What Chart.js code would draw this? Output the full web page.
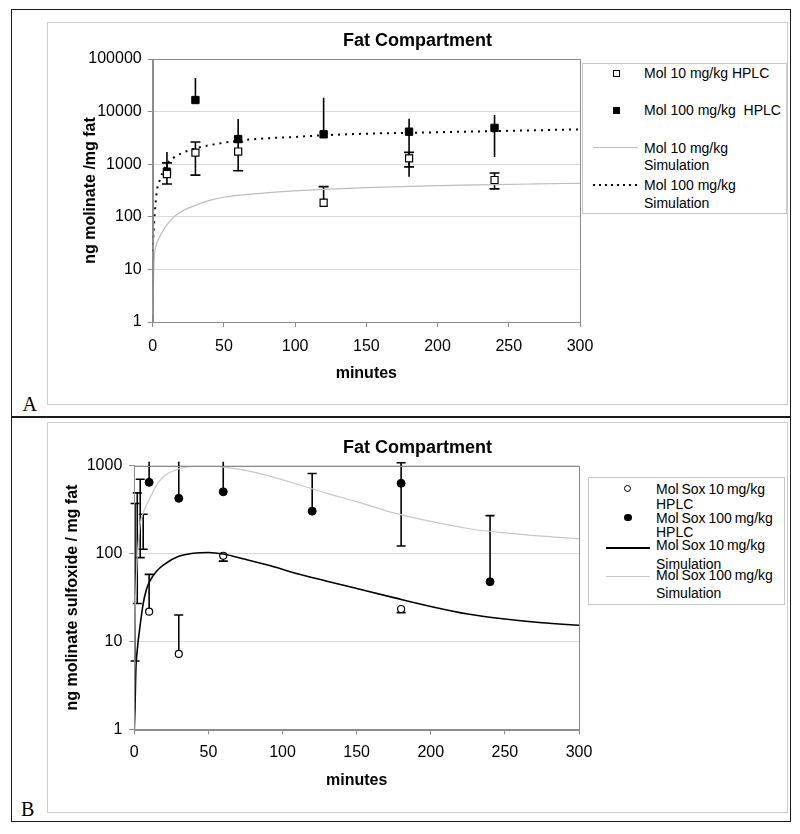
<!DOCTYPE html>
<html>
<head>
<meta charset="utf-8">
<title>Fat Compartment</title>
<script src="https://cdn.jsdelivr.net/npm/chart.js@4.4.1/dist/chart.umd.min.js"></script>
<style>
html,body{margin:0;padding:0;background:#fff;}
body{position:relative;width:800px;height:834px;overflow:hidden;font-family:"Liberation Sans",Arial,Helvetica,sans-serif;color:#000;}
.a{position:absolute;}
.frame{position:absolute;border:1.5px solid #cdcdcd;box-sizing:border-box;}
.title{position:absolute;font-weight:bold;font-size:18px;line-height:18px;white-space:nowrap;transform:translateX(-50%);}
.lg{position:absolute;font-size:14px;line-height:14px;white-space:pre;}
.lgb{word-spacing:-1px;}
.panel{position:absolute;font-family:"Liberation Serif","Times New Roman",serif;font-size:20px;line-height:20px;}
canvas{position:absolute;}
</style>
</head>
<body>
<div class="a" style="left:11px;top:9px;width:780px;height:813px;border:1.5px solid #1a1a1a;box-sizing:border-box;"></div>
<div class="a" style="left:11px;top:416px;width:780px;height:1.5px;background:#1a1a1a;"></div>

<div class="frame" style="left:47px;top:22px;width:741px;height:383px;"></div>
<div class="frame" style="left:47px;top:422px;width:741px;height:391px;"></div>

<canvas id="chartA" width="739" height="381" style="left:48px;top:23px;width:739px;height:381px;"></canvas>
<canvas id="chartB" width="739" height="389" style="left:48px;top:423px;width:739px;height:389px;"></canvas>

<div class="title" style="left:417.5px;top:31.2px;">Fat Compartment</div>
<div class="title" style="left:417.5px;top:437.7px;">Fat Compartment</div>

<div class="panel" style="left:22.5px;top:394px;">A</div>
<div class="panel" style="left:21px;top:799px;">B</div>

<!-- Legend A -->
<div class="a" style="left:582.3px;top:63.3px;width:205px;height:151px;border:1px solid #c8c8c8;box-sizing:border-box;background:#fff;"></div>
<div class="a" style="left:613px;top:70px;width:7px;height:7px;border:1.2px solid #000;box-sizing:border-box;background:#fff;"></div>
<div class="a" style="left:613px;top:107.2px;width:7px;height:7px;background:#000;"></div>
<div class="a" style="left:593px;top:147.2px;width:45px;height:1px;background:#bdbdbd;"></div>
<div class="a" style="left:593px;top:184px;width:45px;height:2px;background:repeating-linear-gradient(to right,#000 0 2px,transparent 2px 6px);"></div>
<div class="lg" style="left:644px;top:66.2px;">Mol 10 mg/kg HPLC</div>
<div class="lg" style="left:644px;top:102.7px;">Mol 100 mg/kg  HPLC</div>
<div class="lg" style="left:644px;top:140.9px;">Mol 10 mg/kg</div>
<div class="lg" style="left:644px;top:158.2px;">Simulation</div>
<div class="lg" style="left:644px;top:178.2px;">Mol 100 mg/kg</div>
<div class="lg" style="left:644px;top:195.5px;">Simulation</div>

<!-- Legend B -->
<div class="a" style="left:588.3px;top:477.3px;width:197px;height:128px;border:1px solid #c8c8c8;box-sizing:border-box;background:#fff;"></div>
<div class="a" style="left:624.2px;top:484.8px;width:7px;height:7px;border:1.2px solid #000;box-sizing:border-box;border-radius:50%;background:#fff;"></div>
<div class="a" style="left:624px;top:513.6px;width:7.5px;height:7.5px;border-radius:50%;background:#000;"></div>
<div class="a" style="left:606px;top:547px;width:44px;height:1.6px;background:#000;"></div>
<div class="a" style="left:606px;top:576.2px;width:44px;height:1px;background:#c8c8c8;"></div>
<div class="lg lgb" style="left:656px;top:481.5px;">Mol Sox 10 mg/kg</div>
<div class="lg lgb" style="left:656px;top:496.7px;">HPLC</div>
<div class="lg lgb" style="left:656px;top:510.9px;">Mol Sox 100 mg/kg</div>
<div class="lg lgb" style="left:656px;top:525.4px;">HPLC</div>
<div class="lg lgb" style="left:656px;top:538.2px;">Mol Sox 10 mg/kg</div>
<div class="lg lgb" style="left:656px;top:557px;">Simulation</div>
<div class="lg lgb" style="left:656px;top:568.2px;">Mol Sox 100 mg/kg</div>
<div class="lg lgb" style="left:656px;top:586px;">Simulation</div>

<script>
// ---------- axes ----------
const xTicks = [0, 50, 100, 150, 200, 250, 300];
const yTicksA = [1, 10, 100, 1000, 10000, 100000];
const yTicksB = [1, 10, 100, 1000];

// ---------- Panel A: molinate ----------
const timesA = [10, 30, 60, 120, 180, 240];
const mol10Hplc = [650, 1660, 1740, 185, 1290, 500];
const mol10Low  = [420, 620, 750, 185, 890, 340];
const mol10High = [1060, 2640, 2650, 375, 1680, 680];
const mol100Hplc = [720, 16600, 3000, 3700, 4150, 4900];
const mol100Low  = [720, 16600, 3000, 3700, 580, 1370];
const mol100High = [1700, 43700, 7250, 18400, 7330, 8600];

const simTimesA = [0, 1, 2, 3, 5, 7, 10, 15, 20, 30, 40, 50, 60, 80, 100, 120, 150, 180, 210, 240, 270, 300];
const mol10Sim  = [1.4, 15, 26, 32, 42, 53, 70, 100, 125, 165, 205, 235, 255, 285, 310, 332, 358, 380, 395, 410, 422, 433];
const mol100Sim = [22, 76, 180, 320, 500, 700, 1000, 1350, 1600, 2000, 2300, 2560, 2800, 3100, 3300, 3550, 3800, 3950, 4100, 4250, 4420, 4600];

// ---------- Panel B: molinate sulfoxide ----------
const timesB10 = [10, 30, 60, 180];
const sox10Hplc = [21.8, 7.2, 94.5, 23.4];
const sox10Low  = [21.8, 7.2, 82, 21.3];
const sox10High = [58, 20, 94.5, 23.4];

const timesB100 = [10, 30, 60, 120, 180, 240];
const sox100Hplc = [646, 425, 505, 304, 630, 47.8];
const sox100Low  = [646, 425, 505, 304, 122, 47.8];
const sox100High = [3000, 3000, 3000, 815, 1080, 270];

const earlyTimesB = [0.5, 2, 4, 6];
const earlyLowB   = [6, 27, 90, 112];
const earlyHighB  = [372, 490, 700, 280];

const simTimesB = [0, 0.5, 1, 2, 4, 6, 8, 10, 15, 20, 30, 40, 50, 60, 75, 90, 110, 130, 150, 175, 200, 225, 250, 275, 300];
const sox10Sim  = [1, 1.8, 4.5, 8, 15.5, 27, 38, 47, 63, 75, 93, 101, 103, 99, 86, 74, 59, 48.5, 40, 31.5, 25, 20.5, 18, 16.3, 15.3];
const sox100Sim = [1, 20, 35, 90, 220, 290, 350, 410, 600, 760, 920, 985, 995, 965, 885, 770, 615, 485, 390, 290, 232, 193, 172, 158, 148];

// ---------- helpers ----------
const FAMILY = '"Liberation Sans", Arial, sans-serif';
const pts = (xs, ys) => xs.map((x, i) => ({ x: x, y: ys[i] }));

const errBarPlugin = {
  id: 'errbars',
  beforeDatasetsDraw(chart, args, opts) {
    const { ctx, chartArea: ca, scales } = chart;
    const x = scales.x, y = scales.y;
    ctx.save();
    ctx.beginPath();
    ctx.rect(ca.left - 6, ca.top - 4, ca.right - ca.left + 12, ca.bottom - ca.top + 4);
    ctx.clip();
    (opts.sets || []).forEach(s => {
      ctx.strokeStyle = s.color || '#000';
      ctx.lineWidth = s.width || 1.6;
      s.t.forEach((t, i) => {
        const px = x.getPixelForValue(t);
        const lo = y.getPixelForValue(s.low[i]);
        const hi = y.getPixelForValue(s.high[i]);
        ctx.beginPath();
        ctx.moveTo(px, lo);
        ctx.lineTo(px, hi);
        if (s.cap) {
          const hw = s.cap / 2;
          if (!s.val || s.high[i] !== s.val[i]) { ctx.moveTo(px - hw, hi); ctx.lineTo(px + hw, hi); }
          if (!s.val || s.low[i] !== s.val[i]) { ctx.moveTo(px - hw, lo); ctx.lineTo(px + hw, lo); }
        }
        ctx.stroke();
      });
    });
    ctx.restore();
  }
};

const framePlugin = {
  id: 'plotFrame',
  afterDatasetsDraw(chart) {
    const { ctx, chartArea: ca } = chart;
    ctx.save();
    ctx.strokeStyle = '#8c8c8c';
    ctx.lineWidth = 1;
    ctx.strokeRect(Math.round(ca.left) + 0.5, Math.round(ca.top) + 0.5, Math.round(ca.right - ca.left), Math.round(ca.bottom - ca.top));
    ctx.restore();
  }
};

function makeOptions(cfg) {
  return {
    responsive: false,
    animation: false,
    devicePixelRatio: 1,
    layout: { padding: { left: 0, right: cfg.padRight, top: cfg.padTop, bottom: 0 } },
    plugins: {
      legend: { display: false },
      title: { display: false },
      tooltip: { enabled: false },
      errbars: { sets: cfg.errSets }
    },
    scales: {
      x: {
        type: 'linear', min: 0, max: 300,
        afterBuildTicks: s => { s.ticks = xTicks.map(v => ({ value: v })); },
        afterFit: s => { s.height = cfg.xHeight; },
        ticks: { font: { family: FAMILY, size: 16 }, color: '#000', padding: cfg.xTickPad, maxRotation: 0, autoSkip: false, callback: v => String(v) },
        grid: { drawOnChartArea: false, drawTicks: true, tickLength: 5, color: '#8c8c8c', tickColor: '#8c8c8c' },
        border: { display: true, color: '#8c8c8c', width: 1 },
        title: { display: true, text: 'minutes', color: '#000', font: { family: FAMILY, size: 16, weight: 'bold' }, padding: { top: 0, bottom: cfg.xTitlePad } }
      },
      y: {
        type: 'logarithmic', min: cfg.yMin, max: cfg.yMax,
        afterBuildTicks: s => { s.ticks = cfg.yTicks.map(v => ({ value: v })); },
        afterFit: s => { s.width = cfg.yWidth; },
        ticks: { font: { family: FAMILY, size: 16 }, color: '#000', padding: cfg.yTickPad, autoSkip: false, callback: v => String(v) },
        grid: { color: '#d9d9d9', lineWidth: 1, drawTicks: true, tickLength: 5, tickColor: '#8c8c8c' },
        border: { display: true, color: '#8c8c8c', width: 1 },
        title: { display: true, text: cfg.yTitle, color: '#000', font: { family: FAMILY, size: 16, weight: 'bold' }, padding: { top: cfg.yTitlePad, bottom: 0 } }
      }
    }
  };
}

// ---------- Chart A ----------
new Chart(document.getElementById('chartA'), {
  type: 'scatter',
  data: {
    datasets: [
      { label: 'Mol 10 mg/kg Simulation', data: pts(simTimesA, mol10Sim), showLine: true, pointRadius: 0, borderColor: '#bdbdbd', borderWidth: 1.2, cubicInterpolationMode: 'monotone' },
      { label: 'Mol 100 mg/kg Simulation', data: pts(simTimesA, mol100Sim), showLine: true, pointRadius: 0, borderColor: '#000', borderWidth: 2, borderDash: [2, 5], cubicInterpolationMode: 'monotone' },
      { label: 'Mol 10 mg/kg HPLC', data: pts(timesA, mol10Hplc), pointStyle: 'rect', pointRadius: 5, backgroundColor: '#fff', borderColor: '#000', borderWidth: 1.2 },
      { label: 'Mol 100 mg/kg HPLC', data: pts(timesA, mol100Hplc), pointStyle: 'rect', pointRadius: 5.2, backgroundColor: '#000', borderColor: '#000', borderWidth: 1 }
    ]
  },
  options: makeOptions({
    padRight: 207, padTop: 36, xHeight: 82, yWidth: 104.7,
    xTickPad: 9.6, yTickPad: 6, xTitlePad: 20.4, yTitlePad: 33.4,
    yMin: 1, yMax: 100000, yTicks: yTicksA, yTitle: 'ng molinate /mg fat',
    errSets: [
      { t: timesA, val: mol10Hplc, low: mol10Low, high: mol10High, cap: 10, width: 1.6 },
      { t: timesA, val: mol100Hplc, low: mol100Low, high: mol100High, cap: 0, width: 1.6 }
    ]
  }),
  plugins: [errBarPlugin, framePlugin]
});

// ---------- Chart B ----------
new Chart(document.getElementById('chartB'), {
  type: 'scatter',
  data: {
    datasets: [
      { label: 'Mol Sox 100 mg/kg Simulation', data: pts(simTimesB, sox100Sim), showLine: true, pointRadius: 0, borderColor: '#c8c8c8', borderWidth: 1.2, cubicInterpolationMode: 'monotone' },
      { label: 'Mol Sox 10 mg/kg Simulation', data: pts(simTimesB, sox10Sim), showLine: true, pointRadius: 0, borderColor: '#000', borderWidth: 1.6, cubicInterpolationMode: 'monotone' },
      { label: 'Mol Sox 10 mg/kg HPLC', data: pts(timesB10, sox10Hplc), pointStyle: 'circle', pointRadius: 3.5, backgroundColor: '#fff', borderColor: '#000', borderWidth: 1.2 },
      { label: 'Mol Sox 100 mg/kg HPLC', data: pts(timesB100, sox100Hplc), pointStyle: 'circle', pointRadius: 4, backgroundColor: '#000', borderColor: '#000', borderWidth: 1 }
    ]
  },
  options: makeOptions({
    padRight: 208, padTop: 42.7, xHeight: 82.7, yWidth: 86.3,
    xTickPad: 8.6, yTickPad: 7, xTitlePad: 21.4, yTitlePad: 14.8,
    yMin: 1, yMax: 1000, yTicks: yTicksB, yTitle: 'ng molinate sulfoxide / mg fat',
    errSets: [
      { t: timesB10, val: sox10Hplc, low: sox10Low, high: sox10High, cap: 9, width: 1.6 },
      { t: timesB100, val: sox100Hplc, low: sox100Low, high: sox100High, cap: 9, width: 1.6 },
      { t: earlyTimesB, low: earlyLowB, high: earlyHighB, cap: 9, width: 1.6 }
    ]
  }),
  plugins: [errBarPlugin, framePlugin]
});
</script>
</body>
</html>
